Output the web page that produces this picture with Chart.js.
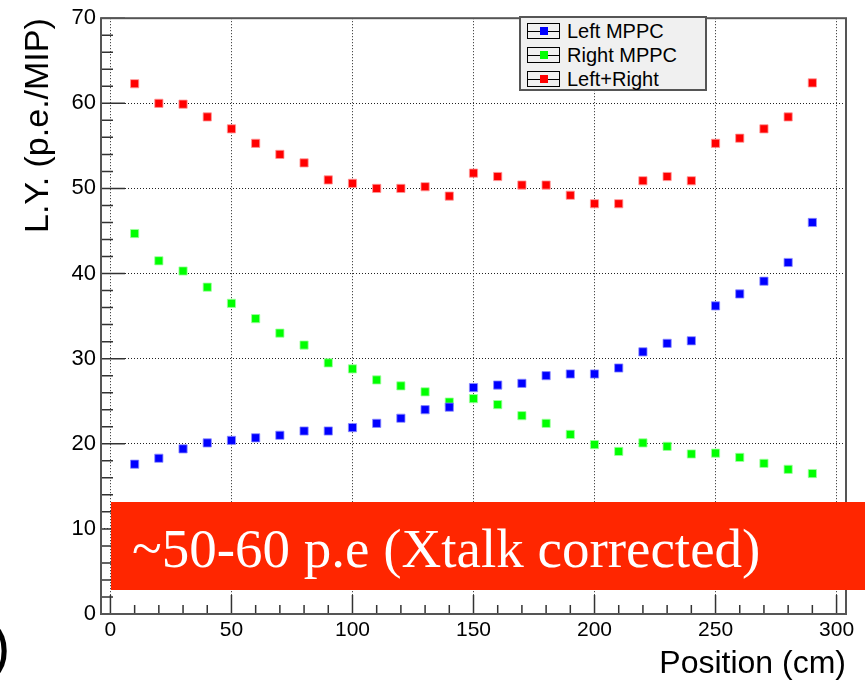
<!DOCTYPE html>
<html>
<head>
<meta charset="utf-8">
<script src="https://cdn.jsdelivr.net/npm/chart.js@4/dist/chart.umd.min.js"></script>
<style>
  html, body { margin: 0; padding: 0; background: #fff; }
  #wrap { position: relative; width: 865px; height: 685px; overflow: hidden; }
  #legend {
    position: absolute; left: 519px; top: 16px; width: 188px; height: 75px;
    box-sizing: border-box; background: #f0f0f0; border: 2px solid #555;
    font-family: "Liberation Sans", Arial, sans-serif; font-size: 20px; color: #000;
    padding-top: 1px;
  }
  .row { height: 24px; display: flex; align-items: center; }
  .icon { position: relative; width: 33px; height: 16px; border: 1px solid #000; margin: 0 7px 0 6px; box-sizing: border-box; }
  .icon:before { content: ""; position: absolute; left: 0; right: 0; top: 7px; height: 1px; background: #000; }
  .icon span { position: absolute; left: 12px; top: 3px; width: 8px; height: 8px; }
  #note {
    position: absolute; left: 111px; top: 502px; width: 754px; height: 88px;
    box-sizing: border-box; background: #ff2600; color: #fff;
    font-family: "Liberation Serif", "Times New Roman", serif; font-size: 55px;
    padding: 5px 0 0 21px; line-height: 83px; white-space: nowrap;
  }
  #cut {
    position: absolute; left: -9px; top: 612px;
    font-family: "Liberation Sans", Arial, sans-serif; font-size: 58px; color: #000;
  }
</style>
</head>
<body>
<div id="wrap">
  <canvas id="c" width="865" height="685"></canvas>
  <div id="legend"></div>
  <div id="note">~50-60 p.e (Xtalk corrected)</div>
  <div id="cut">)</div>
</div>
<script>
// positions along the bar (cm)
const positions = [10, 20, 30, 40, 50, 60, 70, 80, 90, 100, 110, 120, 130, 140, 150,
                   160, 170, 180, 190, 200, 210, 220, 230, 240, 250, 260, 270, 280, 290];

// light yield (p.e./MIP)
const leftMPPC  = [17.6, 18.3, 19.4, 20.1, 20.4, 20.7, 21.0, 21.5, 21.5, 21.9, 22.4, 23.0, 24.0, 24.3, 26.6,
                   26.9, 27.1, 28.0, 28.2, 28.2, 28.9, 30.8, 31.8, 32.1, 36.2, 37.6, 39.1, 41.3, 46.0];
const rightMPPC = [44.7, 41.5, 40.3, 38.4, 36.5, 34.7, 33.0, 31.6, 29.5, 28.8, 27.5, 26.8, 26.1, 24.9, 25.3,
                   24.6, 23.3, 22.4, 21.1, 19.9, 19.1, 20.1, 19.7, 18.8, 18.9, 18.4, 17.7, 17.0, 16.5];
const leftRight = [62.3, 60.0, 59.9, 58.4, 57.0, 55.3, 54.0, 53.0, 51.0, 50.6, 50.0, 50.0, 50.2, 49.1, 51.8,
                   51.4, 50.4, 50.4, 49.2, 48.2, 48.2, 50.9, 51.4, 50.9, 55.3, 55.9, 57.0, 58.4, 62.4];

const xTicks = [0, 50, 100, 150, 200, 250, 300];
const yTicks = [0, 10, 20, 30, 40, 50, 60, 70];

const series = [
  { label: 'Left MPPC',  data: leftMPPC,  color: '#0000ff', halo: 'rgba(140,140,255,0.8)' },
  { label: 'Right MPPC', data: rightMPPC, color: '#00ff00', halo: 'rgba(160,255,160,0.8)' },
  { label: 'Left+Right', data: leftRight, color: '#ff0000', halo: 'rgba(255,150,150,0.8)' }
];

const sans = 'Liberation Sans, Arial, sans-serif';

// ROOT style frame with inner ticks
const rootFrame = {
  id: 'rootFrame',
  afterDraw(chart) {
    const { ctx, chartArea: a, scales: { x, y } } = chart;
    ctx.save();
    ctx.strokeStyle = '#333';
    ctx.lineWidth = 1.5;
    ctx.beginPath();
    for (let v = 0; v <= 70; v += 2) {
      const py = y.getPixelForValue(v);
      const len = v % 10 === 0 ? 24 : 12;
      ctx.moveTo(a.left, py); ctx.lineTo(a.left + len, py);
    }
    for (let v = 0; v <= 300; v += 10) {
      const px = x.getPixelForValue(v);
      const len = v % 50 === 0 ? 19 : 9;
      ctx.moveTo(px, a.bottom); ctx.lineTo(px, a.bottom - len);
    }
    ctx.stroke();
    ctx.strokeStyle = '#555';
    ctx.lineWidth = 2;
    ctx.strokeRect(a.left, a.top, a.right - a.left, a.bottom - a.top);
    ctx.restore();
  }
};

const chart = new Chart(document.getElementById('c'), {
  type: 'scatter',
  data: {
    datasets: series.map(s => ({
      label: s.label,
      data: positions.map((p, i) => ({ x: p, y: s.data[i] })),
      backgroundColor: s.color,
      borderColor: s.halo,
      borderWidth: 1,
      pointStyle: 'rect',
      pointRadius: 5.8,
      pointHoverRadius: 5.8
    }))
  },
  options: {
    responsive: false,
    animation: false,
    devicePixelRatio: 1,
    layout: { padding: { top: 16, right: 19, left: 0, bottom: 0 } },
    plugins: { legend: { display: false }, tooltip: { enabled: false } },
    scales: {
      x: {
        type: 'linear', min: -3.9, max: 303.9,
        afterBuildTicks: s => { s.ticks = xTicks.map(v => ({ value: v })); },
        afterFit: s => { s.height = 71; },
        grid: { color: '#222', lineWidth: 1, drawTicks: false },
        border: { display: false, dash: [1, 2] },
        ticks: { font: { family: sans, size: 21 }, color: '#000', padding: 4, maxRotation: 0, autoSkip: false },
        title: { display: true, text: 'Position (cm)', align: 'end', color: '#000',
                 font: { family: sans, size: 32 }, padding: { top: 0, bottom: 1.5 } }
      },
      y: {
        type: 'linear', min: 0, max: 70,
        afterBuildTicks: s => { s.ticks = yTicks.map(v => ({ value: v })); },
        afterFit: s => { s.width = 101; },
        grid: { color: '#222', lineWidth: 1, drawTicks: false },
        border: { display: false, dash: [1, 2] },
        ticks: { font: { family: sans, size: 22 }, color: '#000', padding: 5, autoSkip: false },
        title: { display: true, text: 'L.Y. (p.e./MIP)', align: 'end', color: '#000',
                 font: { family: sans, size: 34 }, padding: { top: 18.5, bottom: 0 } }
      }
    }
  },
  plugins: [rootFrame]
});

// legend box built from the datasets
const legend = document.getElementById('legend');
chart.data.datasets.forEach(ds => {
  const row = document.createElement('div');
  row.className = 'row';
  row.innerHTML = `<div class="icon"><span style="background:${ds.backgroundColor}"></span></div>${ds.label}`;
  legend.appendChild(row);
});
</script>
</body>
</html>
